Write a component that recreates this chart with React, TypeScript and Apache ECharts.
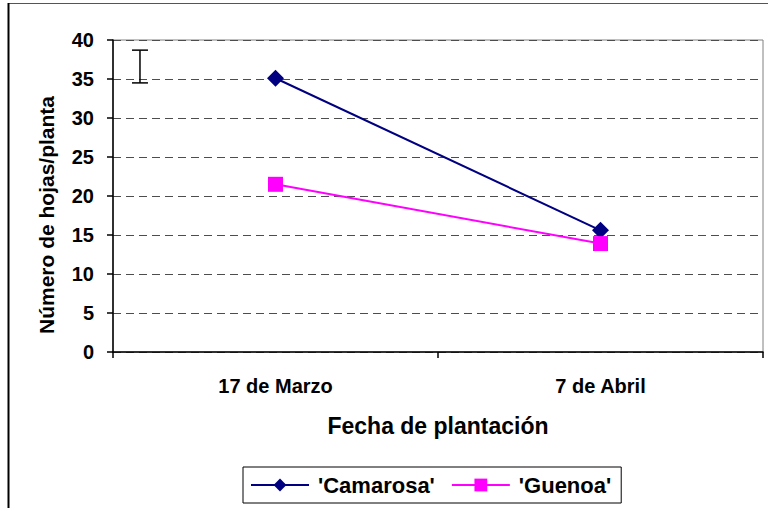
import React, { useEffect, useRef } from "react";
import * as echarts from "echarts";

const categories = ["17 de Marzo", "7 de Abril"];
const camarosa = [35.1, 15.6];
const guenoa = [21.5, 13.9];
const seriesNames = ["'Camarosa'", "'Guenoa'"];
const yTitle = "Número de hojas/planta";
const xTitle = "Fecha de plantación";
// error bar: [x position on a 0..2 category-span scale, low, high]
const errorBar = [[0.083, 34.5, 38.7]];

const FONT = "'Liberation Sans', Arial, sans-serif";

export default function App() {
  const ref = useRef<HTMLDivElement>(null);
  useEffect(() => {
    if (!ref.current) return;
    const chart = echarts.init(ref.current, undefined, { renderer: "svg" });
    chart.setOption({
      animation: false,
      backgroundColor: "#ffffff",
      textStyle: { fontFamily: FONT },
      grid: {
        left: 113,
        top: 40,
        right: 5,
        bottom: 156,
        show: true,
        borderColor: "#808080",
        borderWidth: 1,
        containLabel: false,
      },
      graphic: [
        {
          type: "line",
          shape: { x1: 8, y1: 3.5, x2: 768, y2: 3.5 },
          style: { stroke: "#555555", lineWidth: 1.2 },
        },
        {
          type: "line",
          shape: { x1: 8.5, y1: 3, x2: 8.5, y2: 508 },
          style: { stroke: "#000000", lineWidth: 2 },
        },
        {
          type: "text",
          x: 46,
          y: 215,
          rotation: Math.PI / 2,
          style: {
            text: yTitle,
            fontFamily: FONT,
            fontSize: 21,
            fontWeight: "bold",
            fill: "#000000",
            align: "center",
            verticalAlign: "middle",
          },
        },
      ],
      legend: {
        left: 243,
        top: 467,
        orient: "horizontal",
        padding: [7, 10, 7, 7],
        borderColor: "#000000",
        borderWidth: 1,
        itemWidth: 58,
        itemHeight: 16,
        itemGap: 16,
        data: seriesNames,
        textStyle: {
          fontFamily: FONT,
          fontSize: 22,
          fontWeight: "bold",
          color: "#000000",
          padding: [0, 0, 0, 4],
        },
      },
      xAxis: [
        {
          type: "category",
          data: categories,
          boundaryGap: true,
          axisLine: { show: true, lineStyle: { color: "#000000", width: 1.5 } },
          axisTick: { show: true, length: 6, inside: false, lineStyle: { color: "#000000", width: 1.5 } },
          axisLabel: {
            margin: 24,
            fontFamily: FONT,
            fontSize: 20,
            fontWeight: "bold",
            color: "#000000",
          },
          splitLine: { show: false },
          name: xTitle,
          nameLocation: "middle",
          nameGap: 62,
          nameTextStyle: {
            fontFamily: FONT,
            fontSize: 23,
            fontWeight: "bold",
            color: "#000000",
          },
        },
        {
          type: "value",
          min: 0,
          max: 2,
          show: false,
        },
      ],
      yAxis: {
        type: "value",
        min: 0,
        max: 40,
        interval: 5,
        axisLine: { show: true, lineStyle: { color: "#000000", width: 1.5 } },
        axisTick: { show: true, length: 6, inside: false, lineStyle: { color: "#000000", width: 1.5 } },
        axisLabel: {
          margin: 19,
          fontFamily: FONT,
          fontSize: 20,
          fontWeight: "bold",
          color: "#000000",
        },
        splitLine: {
          show: true,
          lineStyle: { color: "#4d4d4d", width: 1, type: [8, 5] },
        },
      },
      series: [
        {
          name: seriesNames[0],
          type: "line",
          data: camarosa,
          xAxisIndex: 0,
          color: "#000080",
          symbol: "diamond",
          symbolSize: 17,
          lineStyle: { color: "#000080", width: 2 },
          itemStyle: { color: "#000080" },
        },
        {
          name: seriesNames[1],
          type: "line",
          data: guenoa,
          xAxisIndex: 0,
          color: "#FF00FF",
          symbol: "rect",
          symbolSize: 15,
          lineStyle: { color: "#FF00FF", width: 2 },
          itemStyle: { color: "#FF00FF" },
        },
        {
          type: "custom",
          xAxisIndex: 1,
          data: errorBar,
          silent: true,
          renderItem: (params: any, api: any) => {
            const x = api.value(0);
            const lo = api.coord([x, api.value(1)]);
            const hi = api.coord([x, api.value(2)]);
            const hw = 8;
            const style = { stroke: "#000000", lineWidth: 1.5 };
            return {
              type: "group",
              children: [
                { type: "line", shape: { x1: lo[0], y1: lo[1], x2: hi[0], y2: hi[1] }, style },
                { type: "line", shape: { x1: hi[0] - hw, y1: hi[1], x2: hi[0] + hw, y2: hi[1] }, style },
                { type: "line", shape: { x1: lo[0] - hw, y1: lo[1], x2: lo[0] + hw, y2: lo[1] }, style },
              ],
            };
          },
        },
      ],
    });
    return () => chart.dispose();
  }, []);
  return (
    <div
      ref={ref}
      style={{ position: "absolute", left: 0, top: 0, width: 768, height: 508 }}
    />
  );
}
